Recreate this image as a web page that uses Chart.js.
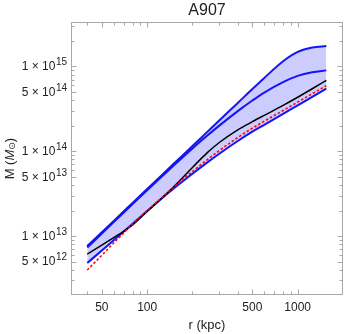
<!DOCTYPE html>
<html>
<head>
<meta charset="utf-8">
<script src="https://cdn.jsdelivr.net/npm/chart.js@4.4.0/dist/chart.umd.min.js"></script>
<style>
  body { margin: 0; background: #fff; }
</style>
</head>
<body>
<canvas id="massChart" width="347" height="334"></canvas>
<script>
// radius in kpc, masses in solar masses
const radius = [40, 50, 60, 70, 80, 100, 125, 150, 200, 250, 300, 400, 500, 600, 800, 1000, 1250, 1550];
const upperMass = [7.62e12, 1.11e13, 1.51e13, 1.96e13, 2.46e13, 3.58e13, 5.22e13, 7.11e13, 1.15e14, 1.68e14, 2.29e14, 3.71e14, 5.42e14, 7.32e14, 1.15e15, 1.48e15, 1.67e15, 1.74e15];
const middleMass = [7.32e12, 1.07e13, 1.46e13, 1.90e13, 2.38e13, 3.46e13, 5.02e13, 6.79e13, 1.08e14, 1.52e14, 1.99e14, 2.97e14, 3.96e14, 4.92e14, 6.52e14, 7.73e14, 8.53e14, 8.98e14];
const lowerMass = [4.81e12, 6.75e12, 8.95e12, 1.136e13, 1.40e13, 1.97e13, 2.77e13, 3.63e13, 5.43e13, 7.34e13, 9.29e13, 1.32e14, 1.70e14, 2.05e14, 2.76e14, 3.48e14, 4.38e14, 5.47e14];
const blackMass = [6.14e12, 7.84e12, 9.60e12, 1.138e13, 1.35e13, 1.95e13, 2.81e13, 3.82e13, 6.44e13, 9.57e13, 1.26e14, 1.79e14, 2.23e14, 2.65e14, 3.47e14, 4.33e14, 5.45e14, 6.86e14];
const redMass = [3.98e12, 5.94e12, 8.30e12, 1.096e13, 1.39e13, 2.00e13, 2.84e13, 3.78e13, 5.77e13, 7.92e13, 1.01e14, 1.45e14, 1.87e14, 2.26e14, 3.02e14, 3.80e14, 4.77e14, 5.94e14];

const xTicks = [50, 100, 500, 1000];
const xMinorTicks = [40, 60, 70, 80, 90, 200, 300, 400, 600, 700, 800, 900];
const yTicks = [5e12, 1e13, 5e13, 1e14, 5e14, 1e15];
const yTickMantissa = [5, 1, 5, 1, 5, 1];
const yTickExponent = [12, 13, 13, 14, 14, 15];
const yMinorTicks = [3e12, 4e12, 6e12, 7e12, 8e12, 9e12, 2e13, 3e13, 4e13, 6e13, 7e13, 8e13, 9e13,
  2e14, 3e14, 4e14, 6e14, 7e14, 8e14, 9e14, 2e15, 3e15];

const fam = '"Liberation Sans", Arial, sans-serif';
const textColor = '#222';
const frameColor = '#a8a8a8';

const pts = arr => radius.map((r, i) => ({ x: r, y: arr[i] }));

// frame, inward ticks, y labels and y title
const decor = {
  id: 'decor',
  afterDraw(chart) {
    const { ctx, chartArea: a, scales: { x, y } } = chart;
    ctx.save();
    ctx.strokeStyle = frameColor;
    ctx.lineWidth = 1;
    const L = Math.round(a.left) + 0.5, R = Math.round(a.right) - 0.5;
    const T = Math.round(a.top) + 0.5, B = Math.round(a.bottom) - 0.5;
    ctx.strokeRect(L, T, R - L, B - T);

    ctx.beginPath();
    const xt = (v, len) => {
      const p = Math.round(x.getPixelForValue(v)) + 0.5;
      ctx.moveTo(p, B); ctx.lineTo(p, B - len);
      ctx.moveTo(p, T); ctx.lineTo(p, T + len);
    };
    const yt = (v, len) => {
      const p = Math.round(y.getPixelForValue(v)) + 0.5;
      ctx.moveTo(L, p); ctx.lineTo(L + len, p);
      ctx.moveTo(R, p); ctx.lineTo(R - len, p);
    };
    xTicks.forEach(v => xt(v, 5));
    xMinorTicks.forEach(v => xt(v, 3));
    yTicks.forEach(v => yt(v, 5));
    yMinorTicks.forEach(v => yt(v, 3));
    ctx.stroke();

    ctx.fillStyle = textColor;
    ctx.textAlign = 'right';
    ctx.textBaseline = 'middle';
    yTicks.forEach((v, i) => {
      const py = y.getPixelForValue(v);
      const xr = a.left - 4;
      ctx.font = '10px ' + fam;
      const ex = String(yTickExponent[i]);
      const ew = ctx.measureText(ex).width;
      ctx.fillText(ex, xr, py - 4);
      ctx.font = '12px ' + fam;
      ctx.fillText(yTickMantissa[i] + ' \u00d7 10', xr - ew - 0.5, py + 0.5);
    });

    // y title: M (M_sun)
    ctx.translate(10, (a.top + a.bottom) / 2);
    ctx.rotate(-Math.PI / 2);
    ctx.textAlign = 'left';
    const parts = [
      { t: 'M (', f: '13px ' + fam, dy: 0 },
      { t: 'M', f: 'italic 13px ' + fam, dy: 0 },
      { t: '\u2299', f: '9px "DejaVu Sans", sans-serif', dy: 3 },
      { t: ')', f: '13px ' + fam, dy: 0 }
    ];
    let total = 0;
    parts.forEach(p => { ctx.font = p.f; p.w = ctx.measureText(p.t).width; total += p.w; });
    let cx = -total / 2;
    parts.forEach(p => { ctx.font = p.f; ctx.fillText(p.t, cx, p.dy); cx += p.w; });
    ctx.restore();
  }
};

const blue = 'rgb(20, 20, 245)';

new Chart(document.getElementById('massChart'), {
  type: 'line',
  data: {
    datasets: [
      { label: 'red', data: pts(redMass), borderColor: 'rgb(255, 0, 0)', borderWidth: 1.6, borderDash: [2.5, 2], fill: false },
      { label: 'black', data: pts(blackMass), borderColor: '#000', borderWidth: 1.5, fill: false },
      { label: 'lower', data: pts(lowerMass), borderColor: blue, borderWidth: 2, fill: false },
      { label: 'middle', data: pts(middleMass), borderColor: blue, borderWidth: 2, fill: false },
      { label: 'upper', data: pts(upperMass), borderColor: blue, borderWidth: 2, fill: 2, backgroundColor: 'rgba(0, 0, 255, 0.2)' }
    ]
  },
  options: {
    responsive: false,
    animation: false,
    layout: { padding: { left: 71, right: 4, top: 0, bottom: 0 } },
    elements: {
      point: { radius: 0 },
      line: { cubicInterpolationMode: 'monotone' }
    },
    plugins: {
      legend: { display: false },
      tooltip: { enabled: false },
      title: {
        display: true,
        text: 'A907',
        fullSize: false,
        color: textColor,
        font: { family: fam, size: 16, weight: 'normal' },
        padding: { top: 1, bottom: 2 }
      }
    },
    scales: {
      x: {
        type: 'logarithmic',
        min: 31.2,
        max: 2000,
        afterBuildTicks: s => { s.ticks = xTicks.map(v => ({ value: v })); },
        afterFit: s => { s.height = 39; },
        grid: { display: false, drawTicks: false },
        border: { display: false },
        ticks: {
          autoSkip: false,
          maxRotation: 0,
          padding: 5,
          color: textColor,
          font: { family: fam, size: 12 },
          callback: v => String(v)
        },
        title: {
          display: true,
          text: 'r (kpc)',
          color: textColor,
          font: { family: fam, size: 13 },
          padding: { top: 2, bottom: 1 }
        }
      },
      y: {
        type: 'logarithmic',
        min: 2.02e12,
        max: 3.32e15,
        display: false
      }
    }
  },
  plugins: [decor]
});
</script>
</body>
</html>
